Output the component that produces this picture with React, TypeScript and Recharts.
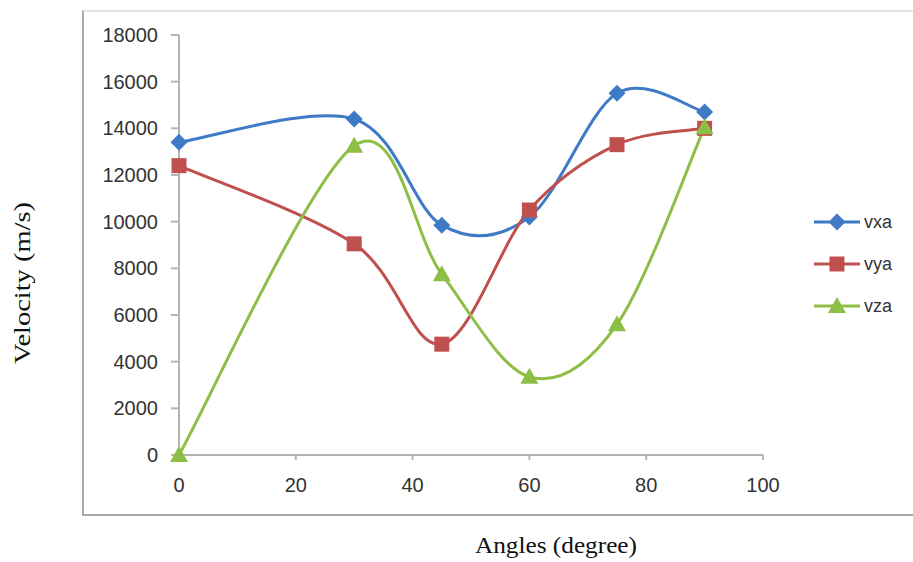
import React from 'react';
import { LineChart, Line, XAxis, YAxis } from 'recharts';

const angles = [0, 30, 45, 60, 75, 90];
const vxa = [13400, 14400, 9850, 10200, 15500, 14700];
const vya = [12400, 9050, 4750, 10500, 13300, 14000];
const vza = [0, 13250, 7750, 3350, 5600, 14050];
const xTicks = [0, 20, 40, 60, 80, 100];
const yTicks = [0, 2000, 4000, 6000, 8000, 10000, 12000, 14000, 16000, 18000];

const data = angles.map((angle, i) => ({ angle, vxa: vxa[i], vya: vya[i], vza: vza[i] }));

const BLUE = '#3F7AC6';
const RED = '#C0504D';
const GREEN = '#8DBE45';
const TICK_FONT = '"Liberation Sans", Arial, sans-serif';
const TITLE_FONT = '"Liberation Serif", "Times New Roman", serif';

// Office-style smoothing: cubic Bezier through every point, tangents from neighbours
const officeSmooth = (context: any) => {
  let pts: number[][] = [];
  return {
    areaStart() {},
    areaEnd() {},
    lineStart() {
      pts = [];
    },
    point(x: number, y: number) {
      pts.push([+x, +y]);
    },
    lineEnd() {
      if (!pts.length) return;
      context.moveTo(pts[0][0], pts[0][1]);
      for (let i = 0; i < pts.length - 1; i++) {
        const p0 = pts[Math.max(i - 1, 0)];
        const p1 = pts[i];
        const p2 = pts[i + 1];
        const p3 = pts[Math.min(i + 2, pts.length - 1)];
        context.bezierCurveTo(
          p1[0] + (p2[0] - p0[0]) / 6,
          p1[1] + (p2[1] - p0[1]) / 6,
          p2[0] - (p3[0] - p1[0]) / 6,
          p2[1] - (p3[1] - p1[1]) / 6,
          p2[0],
          p2[1]
        );
      }
    },
  };
};

type Shape = 'diamond' | 'square' | 'triangle';

const marker = (shape: Shape, cx: number, cy: number, color: string, key?: string) => {
  if (shape === 'diamond') {
    const r = 8.5;
    return <path key={key} d={`M${cx},${cy - r}L${cx + r},${cy}L${cx},${cy + r}L${cx - r},${cy}Z`} fill={color} />;
  }
  if (shape === 'square') {
    const s = 15;
    return <rect key={key} x={cx - s / 2} y={cy - s / 2} width={s} height={s} fill={color} />;
  }
  return <path key={key} d={`M${cx},${cy - 9}L${cx + 9},${cy + 7}L${cx - 9},${cy + 7}Z`} fill={color} />;
};

const dotFor = (shape: Shape, color: string) => (props: any) =>
  marker(shape, props.cx, props.cy, color, `${shape}-${props.index}`);

const seriesList: { key: string; color: string; shape: Shape }[] = [
  { key: 'vxa', color: BLUE, shape: 'diamond' },
  { key: 'vya', color: RED, shape: 'square' },
  { key: 'vza', color: GREEN, shape: 'triangle' },
];

// legend sits at the right, outside the plot, so it doesn't steal chart space
const LegendBox = () => (
  <div style={{ position: 'absolute', left: 812, top: 201, width: 100 }}>
    {seriesList.map((s) => (
      <div key={s.key} style={{ display: 'flex', alignItems: 'center', height: 42 }}>
        <svg width={50} height={20}>
          <line x1={2} y1={10} x2={48} y2={10} stroke={s.color} strokeWidth={3} />
          {marker(s.shape, 25, 10, s.color)}
        </svg>
        <span style={{ fontFamily: TICK_FONT, fontSize: 18, color: '#333', marginLeft: 2 }}>{s.key}</span>
      </div>
    ))}
  </div>
);

const XTitle = (props: any) => {
  const { x, y, width } = props.viewBox;
  return (
    <text x={x + width / 2 + 85} y={y + 98} textAnchor="middle" fontFamily={TITLE_FONT} fontSize={23}
      fill="#111" textLength={162} lengthAdjust="spacingAndGlyphs">
      Angles (degree)
    </text>
  );
};

const YTitle = (props: any) => {
  const { y, height } = props.viewBox;
  const cx = 22;
  const cy = y + height / 2 + 38;
  return (
    <text x={cx} y={cy} transform={`rotate(-90 ${cx} ${cy})`} textAnchor="middle" dominantBaseline="central"
      fontFamily={TITLE_FONT} fontSize={23} fill="#111" textLength={162} lengthAdjust="spacingAndGlyphs">
      Velocity (m/s)
    </text>
  );
};

export default function App() {
  return (
    <div style={{ position: 'absolute', left: 0, top: 0, width: 913, height: 562, background: '#fff' }}>
      <div
        style={{
          position: 'absolute',
          left: 82,
          top: 10,
          width: 831,
          height: 502,
          borderLeft: '2px solid #A8A8A8',
          borderTop: '2px solid #E2E2E2',
          borderBottom: '2px solid #A8A8A8',
        }}
      />
      <div style={{ position: 'absolute', left: 0, top: 0 }}>
        <LineChart width={913} height={562} data={data} margin={{ top: 35, right: 150, bottom: 77, left: 99 }}>
          <XAxis
            type="number"
            dataKey="angle"
            domain={[0, 100]}
            ticks={xTicks}
            interval={0}
            stroke="#B5B5B5"
            strokeWidth={2}
            tickSize={5}
            tickMargin={18}
            height={30}
            tick={{ fill: '#333', fontFamily: TICK_FONT, fontSize: 20 }}
            label={{ content: XTitle }}
          />
          <YAxis
            type="number"
            domain={[0, 18000]}
            ticks={yTicks}
            interval={0}
            stroke="#B5B5B5"
            strokeWidth={2}
            tickSize={8}
            tickMargin={13}
            width={80}
            tick={{ fill: '#333', fontFamily: TICK_FONT, fontSize: 20 }}
            label={{ content: YTitle }}
          />
          {seriesList.map((s) => (
            <Line
              key={s.key}
              dataKey={s.key}
              type={officeSmooth as any}
              stroke={s.color}
              strokeWidth={3}
              dot={dotFor(s.shape, s.color)}
              activeDot={false}
              isAnimationActive={false}
            />
          ))}
        </LineChart>
      </div>
      <LegendBox />
    </div>
  );
}
